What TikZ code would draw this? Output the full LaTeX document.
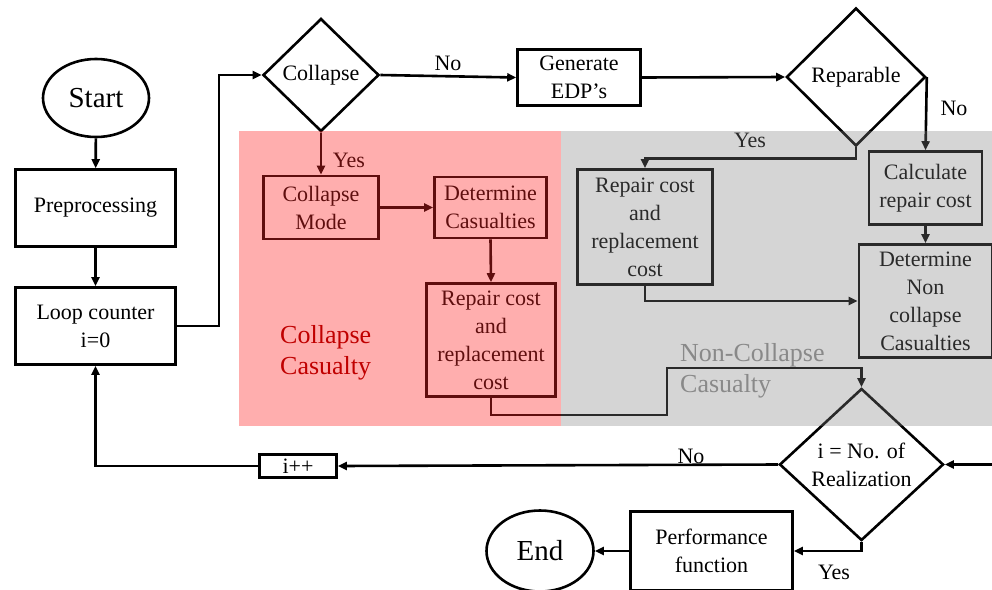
\documentclass[tikz,border=0pt]{standalone}
\usepackage{fontspec}
\setmainfont{Liberation Serif}
\usetikzlibrary{shapes.geometric,arrows.meta}
\definecolor{pinkov}{RGB}{255,39,39}
\definecolor{grayov}{RGB}{128,128,128}
\definecolor{casred}{RGB}{192,0,0}
\definecolor{casgray}{RGB}{137,137,137}
\begin{document}
\begin{tikzpicture}[x=1pt,y=-1pt,
 lw/.style={line width=2.6pt},
 box/.style={draw,lw,rectangle,align=center,inner sep=0pt,font=\fontsize{22}{28}\selectfont},
 dia/.style={draw,lw,diamond,inner sep=0pt},
 oval/.style={draw,lw,ellipse,inner sep=0pt,font=\fontsize{29}{34}\selectfont},
 arr/.style={lw,-{Triangle[length=9pt,width=8pt]}},
 lbl/.style={inner sep=0pt,align=center,font=\fontsize{22}{28}\selectfont},
 biglbl/.style={inner sep=0pt,align=left,font=\fontsize{26}{31}\selectfont},
 ]
\useasboundingbox (0,0) rectangle (992,589);
\fill[white] (0,0) rectangle (992,589);

% nodes
\node[oval, minimum width=106pt, minimum height=78pt] (start) at (96,98) {Start};
\node[box, minimum width=160pt, minimum height=77pt] (pre) at (95.5,208) {Preprocessing};
\node[box, minimum width=160pt, minimum height=77pt] (loop) at (95.5,326) {Loop counter\\i=0};
\node[dia, minimum width=116pt, minimum height=113pt, label={[lbl]center:Collapse}] (collapse) at (321,75) {};
\node[box, minimum width=123pt, minimum height=56pt] (gen) at (579,77.5) {Generate\\EDP’s};
\node[dia, minimum width=139pt, minimum height=138pt, label={[lbl]center:Reparable}] (rep) at (856,77) {};
\node[box, minimum width=115pt, minimum height=63pt] (mode) at (321,207.5) {Collapse\\Mode};
\node[box, minimum width=112pt, minimum height=61pt] (detc) at (490.5,207.5) {Determine\\Casualties};
\node[box, minimum width=129pt, minimum height=113pt] (rrep) at (491,340) {Repair cost\\and\\replacement\\cost};
\node[box, minimum width=135pt, minimum height=115pt] (grep) at (645,227) {Repair cost\\and\\replacement\\cost};
\node[box, minimum width=113pt, minimum height=73pt] (calc) at (925.5,188) {Calculate\\repair cost};
\node[box, minimum width=133pt, minimum height=113pt] (detn) at (925.5,301) {Determine\\Non\\collapse\\Casualties};
\node[dia, minimum width=164pt, minimum height=152pt, label={[lbl]center:{i = No. of\\Realization}}] (real) at (861.5,464.5) {};
\node[box, minimum width=77pt, minimum height=23pt] (ipp) at (298,466) {i++};
\node[box, minimum width=162pt, minimum height=79pt] (perf) at (711.5,551) {Performance\\function};
\node[oval, minimum width=107pt, minimum height=81pt] (end) at (540,551) {End};

% junction coordinates
\coordinate (jA) at (219,200);
\coordinate (k1) at (667,415);
\coordinate (k2) at (667,368);
\coordinate (rin) at (995,464.5);

% connectors
\draw[arr] (start) -- (pre);
\draw[arr] (pre) -- (loop);
\draw[arr] (loop.east) -| (jA) |- (collapse.west);
\draw[arr] (collapse.east) -- (gen.west);
\draw[arr] (gen.east) -- (rep.west);
\draw[arr] (rep.east) -- (calc.north);
\draw[arr] (rep.south) -- ++(0,11) -| (grep.north);
\draw[arr] (grep.south) |- (detn.west);
\draw[arr] (calc.south) -- (detn.north);
\draw[arr] (collapse.south) -- (mode.north);
\draw[arr] (mode.east) -- (detc.west);
\draw[arr] (detc.south) -- (rrep.north);
\draw[arr] (rrep.south) |- (k1) -- (k2) -| (real.north);
\draw[arr] (rin) -- (real.east);
\draw[arr] (real.west) -- (ipp.east);
\draw[arr] (ipp.west) -| (loop.south);
\draw[arr] (real.south) |- (perf.east);
\draw[arr] (perf.west) -- (end.east);

% branch labels
\node[lbl] (noA) at (448,63) {No};
\node[lbl] (noB) at (954,108) {No};
\node[lbl] (yesA) at (349,160) {Yes};
\node[lbl] (yesB) at (750,140) {Yes};
\node[lbl] (noC) at (691,456) {No};
\node[lbl] (yesC) at (834,572) {Yes};

% overlays
\fill[pinkov, opacity=0.373] (239,131) rectangle (561,426);
\fill[grayov, opacity=0.33] (561,131) rectangle (995,426);

% region labels
\node[biglbl, text=casred, anchor=west] (colcas) at (280,352.5) {Collapse\\Casualty};
\node[biglbl, text=casgray, anchor=west] (ncolcas) at (680,371) {Non-Collapse\\Casualty};
\end{tikzpicture}
\end{document}
